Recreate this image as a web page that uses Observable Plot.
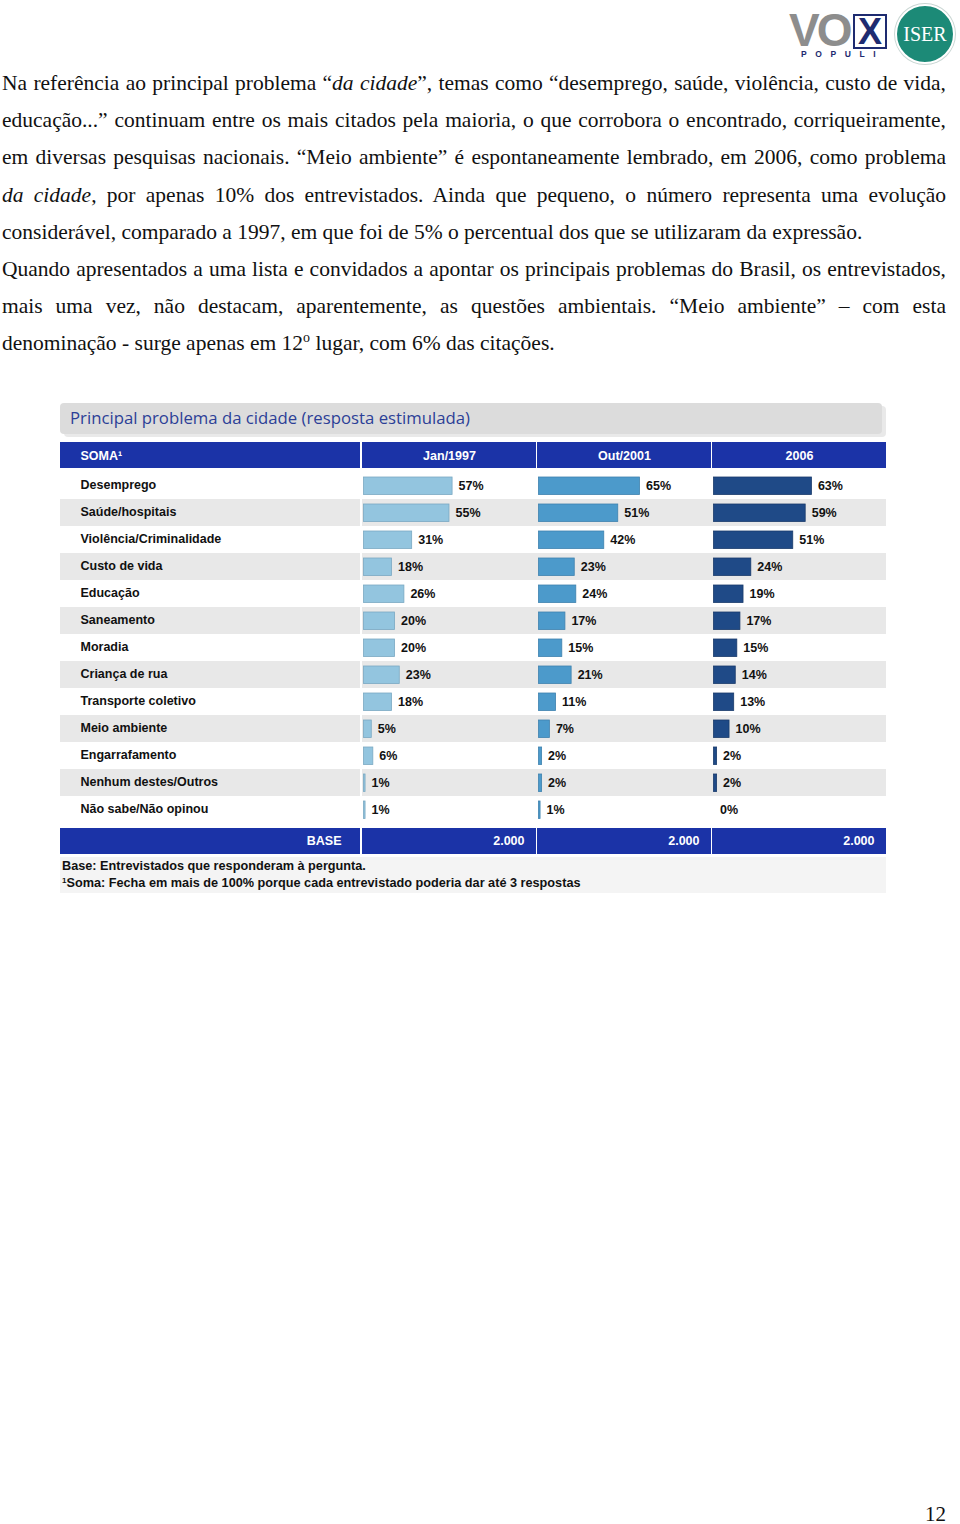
<!DOCTYPE html>
<html>
<head>
<meta charset="utf-8">
<script src="https://cdn.jsdelivr.net/npm/d3@7"></script>
<script src="https://cdn.jsdelivr.net/npm/@observablehq/plot@0.6"></script>
<style>
  html, body { margin: 0; padding: 0; background: #fff; }
  body { width: 960px; height: 1524px; position: relative; overflow: hidden; }
  .para { position: absolute; left: 2px; top: 65px; width: 944px; font-family: "Liberation Serif", "Times New Roman", serif; font-size: 21.5px; line-height: 37.2px; color: #111; }
  .para .ln { text-align: justify; text-align-last: justify; white-space: nowrap; }
  .para .ln.last { text-align-last: left; }
  .para sup { font-size: 14px; line-height: 0; vertical-align: 8px; }
  .logo-vo { position: absolute; left: 789px; top: 12px; font-family: "Liberation Sans", Arial, sans-serif; font-weight: 900; font-size: 46px; letter-spacing: -3px; line-height: 36px; height: 36px; color: #8d8d8d; }
  .logo-x { position: absolute; left: 853px; top: 14px; width: 30px; height: 31px; border: 2px solid #1e2b70; }
  .logo-x span { position: absolute; left: 0; top: 0; width: 30px; height: 31px; color: #1e2b70; font-family: "Liberation Sans", Arial, sans-serif; font-weight: 900; font-size: 36px; line-height: 31px; text-align: center; }
  .logo-pop { position: absolute; left: 801px; top: 50px; font-family: "Liberation Sans", Arial, sans-serif; font-weight: bold; font-size: 8.5px; line-height: 9px; letter-spacing: 8.6px; color: #1e2b70; }
  .logo-iser { position: absolute; left: 895px; top: 4px; width: 56px; height: 56px; border-radius: 50%; background: #1c8a77; border: 2px solid #fff; box-shadow: 0 0 0 1px #c9d6d3; color: #fff; font-family: "Liberation Serif", serif; font-size: 20px; line-height: 56px; text-align: center; }
  .titlebox { position: absolute; left: 60px; top: 403px; width: 822px; height: 31px; background: #dcdcdc; border-radius: 4px; box-shadow: 4px 3px 0 #e9e9e9; }
  .titlebox span { position: absolute; left: 10px; top: 3px; font-family: "Open Sans", sans-serif; font-size: 17px; color: #2c3f97; white-space: nowrap; transform-origin: left center; }
  #chart { position: absolute; left: 60px; top: 442px; }
  #chart svg { display: block; }
  .footer { position: absolute; left: 60px; top: 857px; width: 826px; height: 36px; background: #f4f4f4; font-family: "Liberation Sans", Arial, sans-serif; font-weight: bold; font-size: 12.7px; color: #111; }
  .footer div { position: absolute; left: 2px; white-space: nowrap; }
  .footer sup { font-size: 8px; vertical-align: 4px; line-height: 0; }
  .pagenum { position: absolute; left: 925px; top: 1505px; font-family: "Liberation Serif", serif; font-size: 21px; line-height: 18px; color: #111; }
</style>
</head>
<body>
<div class="logo-vo">VO</div>
<div class="logo-x"><span>X</span></div>
<div class="logo-pop">POPULI</div>
<div class="logo-iser">ISER</div>

<div class="para">
  <div class="ln">Na referência ao principal problema “<i>da cidade</i>”, temas como “desemprego, saúde, violência, custo de vida,</div>
  <div class="ln">educação...” continuam entre os mais citados pela maioria, o que corrobora o encontrado, corriqueiramente,</div>
  <div class="ln">em diversas pesquisas nacionais. “Meio ambiente” é espontaneamente lembrado, em 2006, como problema</div>
  <div class="ln"><i>da cidade</i>, por apenas 10% dos entrevistados. Ainda que pequeno, o número representa uma evolução</div>
  <div class="ln last">considerável, comparado a 1997, em que foi de 5% o percentual dos que se utilizaram da expressão.</div>
  <div class="ln">Quando apresentados a uma lista e convidados a apontar os principais problemas do Brasil, os entrevistados,</div>
  <div class="ln">mais uma vez, não destacam, aparentemente, as questões ambientais. “Meio ambiente” – com esta</div>
  <div class="ln last">denominação - surge apenas em 12<sup>o</sup> lugar, com 6% das citações.</div>
</div>

<div class="titlebox"><span id="ttl">Principal problema da cidade (resposta estimulada)</span></div>
<div id="chart"></div>
<div class="footer">
  <div style="top:2px">Base: Entrevistados que responderam à pergunta.</div>
  <div style="top:19px"><sup>1</sup>Soma: Fecha em mais de 100% porque cada entrevistado poderia dar até 3 respostas</div>
</div>
<div class="pagenum">12</div>

<script>
// ---- data ----
const categories = [
  "Desemprego", "Saúde/hospitais", "Violência/Criminalidade", "Custo de vida",
  "Educação", "Saneamento", "Moradia", "Criança de rua", "Transporte coletivo",
  "Meio ambiente", "Engarrafamento", "Nenhum destes/Outros", "Não sabe/Não opinou"
];
const periods = ["Jan/1997", "Out/2001", "2006"];
const jan1997 = [57, 55, 31, 18, 26, 20, 20, 23, 18, 5, 6, 1, 1];
const out2001 = [65, 51, 42, 23, 24, 17, 15, 21, 11, 7, 2, 2, 1];
const y2006   = [63, 59, 51, 24, 19, 17, 15, 14, 13, 10, 2, 2, 0];
const baseValues = ["2.000", "2.000", "2.000"];
const headerLabel = "SOMA¹";
const baseLabel = "BASE";
const barColors = ["#93c5df", "#4c9acb", "#1f4a87"];
const barStrokes = ["#7aa9c2", "#3f82ae", "#1a3b6b"];
const headerBlue = "#1b33a7";
const stripeGray = "#e8e8e8";

// fit title width
const ttl = document.getElementById("ttl");
const tw = ttl.getBoundingClientRect().width;
ttl.style.transform = `scaleX(${400 / tw})`;

const series = [jan1997, out2001, y2006];
const rows = [];
categories.forEach((c, i) => {
  series.forEach((arr, j) => rows.push({category: c, period: periods[j], value: arr[i]}));
});

const W = 826, ML = 302, MT = 27, MB = 28.5, rowH = 27.5;
const H = MT + MB + rowH * categories.length;

const plot = Plot.plot({
  width: W,
  height: H,
  marginLeft: ML,
  marginRight: 0,
  marginTop: MT,
  marginBottom: MB,
  insetLeft: 1.5,
  x: {domain: [0, 111], axis: null},
  y: {domain: categories, padding: 0, axis: null},
  fx: {domain: periods, padding: 2 / 263, axis: null},
  color: {domain: periods, range: barColors},
  style: {fontFamily: "'Liberation Sans', Arial, sans-serif", fontSize: "12.5px", fontWeight: "bold", color: "#111", background: "transparent", overflow: "visible"},
  marks: [
    Plot.barX(rows, {
      fx: "period", y: "category", x: "value", fill: "period",
      stroke: d => barStrokes[periods.indexOf(d.period)], strokeWidth: 0.8,
      insetTop: 5, insetBottom: 4.5
    }),
    Plot.text(rows, {
      fx: "period", y: "category", x: "value", text: d => d.value + "%",
      textAnchor: "start", lineAnchor: "middle", dx: 6, dy: 0, fill: "#111"
    }),
    // category labels in the label column
    Plot.text(categories, {
      fx: () => periods[0], y: d => d, text: d => d,
      frameAnchor: "left", textAnchor: "start", lineAnchor: "middle", dx: -(ML - 20), dy: -1.5, fill: "#111"
    }),
    // header labels
    Plot.text(periods, {fx: d => d, text: d => d, frameAnchor: "top", lineAnchor: "middle", dy: -14, fill: "white"}),
    Plot.text([headerLabel], {fx: () => periods[0], text: d => d, frameAnchor: "top-left", textAnchor: "start", lineAnchor: "middle", dx: -(ML - 20), dy: -14, fill: "white"}),
    // base row
    Plot.text(periods, {fx: d => d, text: (d, i) => baseValues[i], frameAnchor: "bottom-right", textAnchor: "end", lineAnchor: "middle", dx: -12, dy: 14, fill: "white"}),
    Plot.text([baseLabel], {fx: () => periods[0], text: d => d, frameAnchor: "bottom-left", textAnchor: "end", lineAnchor: "middle", dx: -21, dy: 14, fill: "white"})
  ]
});

// table backgrounds built from the plot's own scales
const yS = plot.scale("y");
const fxS = plot.scale("fx");
const svg = d3.select(plot);
const bg = svg.insert("g", ":first-child").attr("class", "table-bg");
const colSpans = [[0, ML - 2]].concat(periods.map(p => [fxS.apply(p), fxS.apply(p) + fxS.bandwidth]));
// stripes
categories.forEach((c, i) => {
  if (i % 2 === 1) {
    bg.append("rect").attr("x", 0).attr("width", W).attr("y", yS.apply(c)).attr("height", yS.bandwidth).attr("fill", stripeGray);
  }
});
// white separator between label column and data columns
const y0 = yS.apply(categories[0]);
const y1 = yS.apply(categories[categories.length - 1]) + yS.bandwidth;
bg.append("rect").attr("x", ML - 2).attr("width", 2).attr("y", y0).attr("height", y1 - y0).attr("fill", "#fff");
// header and base bars
colSpans.forEach(([a, b]) => {
  bg.append("rect").attr("x", a).attr("width", b - a).attr("y", 0).attr("height", MT - 1).attr("fill", headerBlue);
  bg.append("rect").attr("x", a).attr("width", b - a).attr("y", H - MB + 1.5).attr("height", 26).attr("fill", headerBlue);
});

document.getElementById("chart").appendChild(plot);
</script>
</body>
</html>
